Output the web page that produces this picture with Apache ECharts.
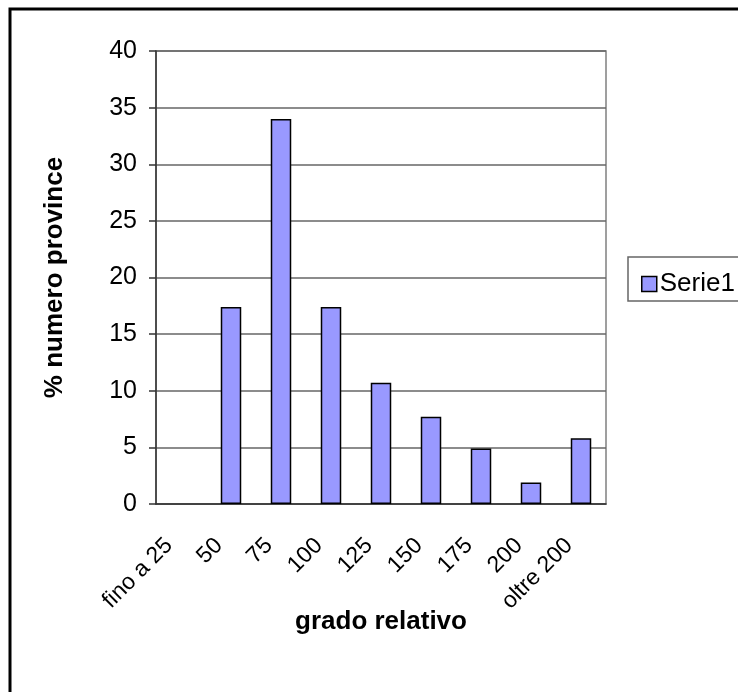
<!DOCTYPE html>
<html style="height: 100%">
<head>
	<meta charset="utf-8">
	<title></title>
	<script type="text/javascript" src="https://cdn.jsdelivr.net/npm/echarts@6/dist/echarts.min.js"></script>
	<script type="text/javascript">
		var categories = ['fino a 25', '50', '75', '100', '125', '150', '175', '200', 'oltre 200'];
		var serie1 = [0, 17.4, 34.0, 17.4, 10.7, 7.7, 4.9, 1.9, 5.8];
		var yTicks = [0, 5, 10, 15, 20, 25, 30, 35, 40];

		window.onload = function(){
			var dom = document.getElementById("container");
			var myChart = echarts.init(dom);
			var font = 'Liberation Sans, Arial, sans-serif';
			var option = {
				backgroundColor: '#fff',
				animation: false,
				textStyle: {fontFamily: font},
				graphic: [
					{
						type: 'rect',
						shape: {x: 10, y: 9, width: 800, height: 800},
						style: {fill: 'none', stroke: '#000', lineWidth: 3}
					},
					{
						type: 'rect',
						shape: {x: 628, y: 257, width: 200, height: 44},
						style: {fill: 'none', stroke: '#666', lineWidth: 1.5}
					}
				],
				grid: {
					left: 156, right: 132, top: 51, bottom: 188,
					show: true, borderColor: '#808080', borderWidth: 1.5
				},
				legend: {
					left: 636, top: 266,
					icon: 'rect',
					itemWidth: 15, itemHeight: 15, itemGap: 6,
					itemStyle: {borderColor: '#000', borderWidth: 1.5},
					textStyle: {fontSize: 26, color: '#000', fontFamily: font, padding: [0, 0, 0, -2]},
					data: ['Serie1']
				},
				xAxis: {
					type: 'category',
					data: categories,
					name: 'grado relativo',
					nameLocation: 'middle',
					nameGap: 105,
					nameMoveOverlap: false,
					nameTextStyle: {fontSize: 26, fontWeight: 'bold', color: '#000'},
					axisLine: {lineStyle: {color: '#333', width: 1.5}},
					axisTick: {length: 7, lineStyle: {color: '#333', width: 1.5}},
					axisLabel: {rotate: 45, fontSize: 23, color: '#000', margin: 26, padding: [0, 17, 0, 0], interval: 0}
				},
				yAxis: {
					type: 'value',
					min: yTicks[0], max: yTicks[yTicks.length - 1], interval: 5,
					name: '% numero province',
					nameLocation: 'middle',
					nameGap: 88,
					nameMoveOverlap: false,
					nameTextStyle: {fontSize: 26, fontWeight: 'bold', color: '#000'},
					axisLine: {show: true, lineStyle: {color: '#333', width: 1.5}},
					axisTick: {show: true, length: 7, lineStyle: {color: '#333', width: 1.5}},
					axisLabel: {fontSize: 25, color: '#000', margin: 19},
					splitLine: {lineStyle: {color: '#666', width: 1.5}}
				},
				series: [
					{
						name: 'Serie1',
						type: 'bar',
						data: serie1.map(function(v){ return v === 0 ? '-' : v; }),
						barWidth: '41%',
						itemStyle: {color: '#9999FF', borderColor: '#000', borderWidth: 1.5}
					}
				]
			};
			myChart.setOption(option);
		};
	</script>
</head>
<body style="height: 100%; margin: 0">
<div id="container" style="width: 738px; height: 692px"></div>
</body>
</html>
